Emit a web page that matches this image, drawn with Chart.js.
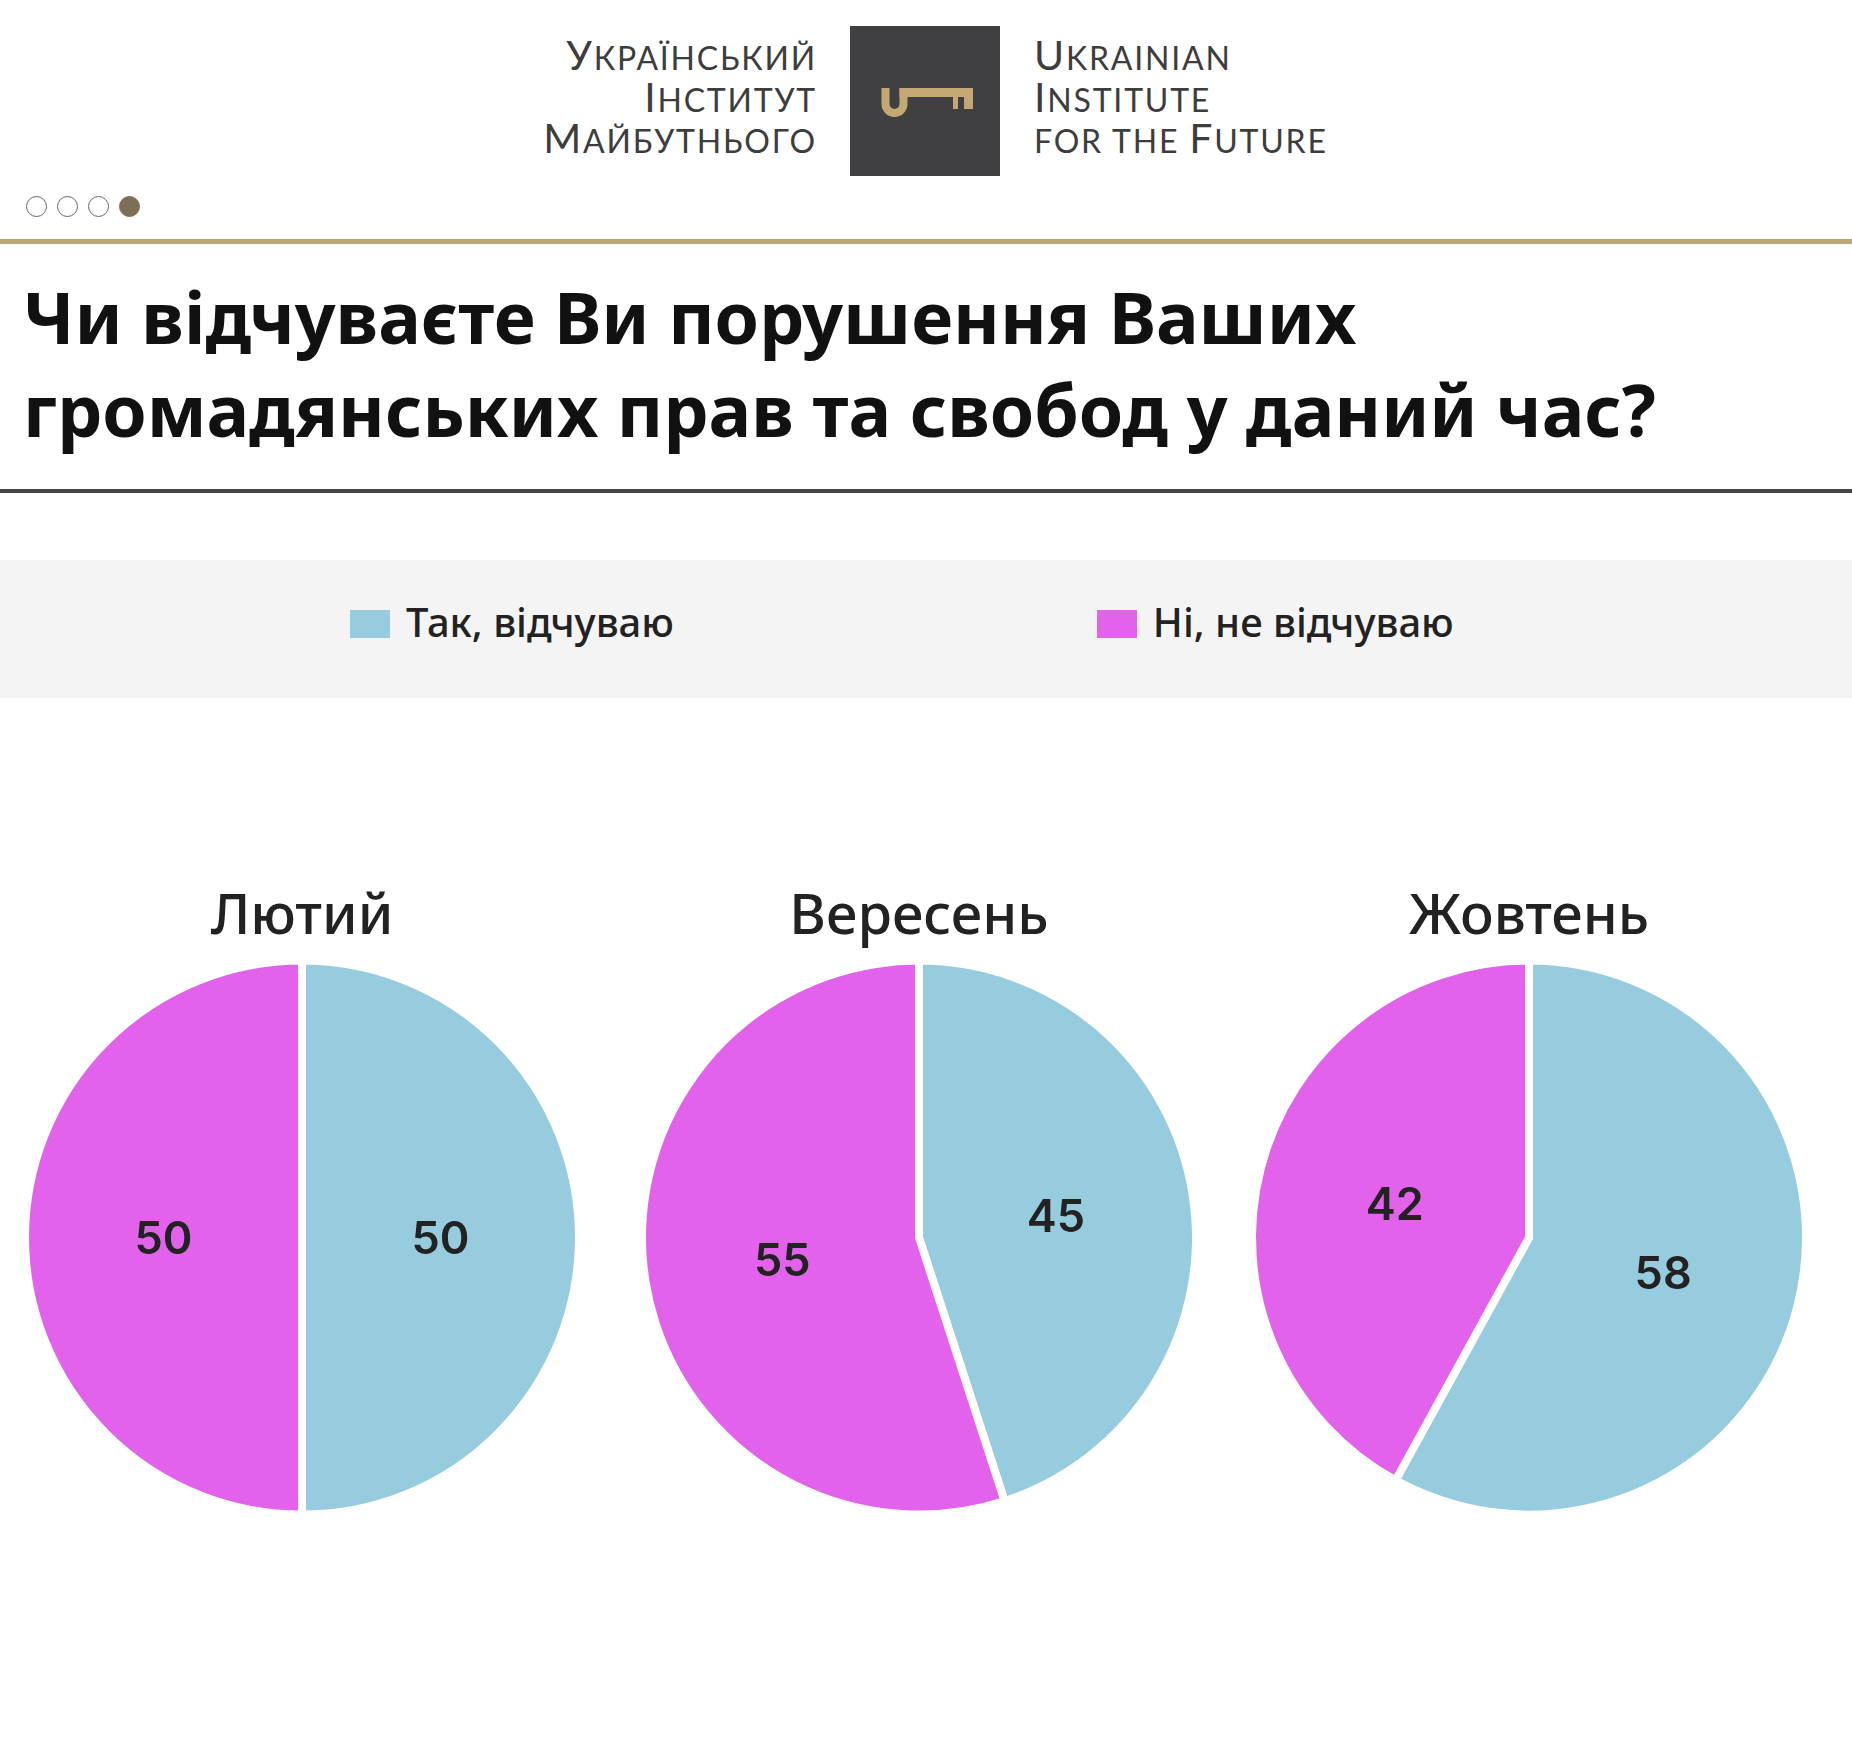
<!DOCTYPE html>
<html lang="uk">
<head>
<meta charset="UTF-8">
<title>Порушення громадянських прав та свобод</title>
<script src="https://cdn.jsdelivr.net/npm/chart.js"></script>
<style>
  html, body { margin: 0; padding: 0; background: #fff; }
  body { width: 1852px; height: 1739px; position: relative; overflow: hidden; font-family: 'Noto Sans', sans-serif; color: #222; }
  .logo-text { position: absolute; font-family: Lato, sans-serif; color: #3d3d3d; font-size: 32px; line-height: 41.5px; letter-spacing: 1.8px; text-transform: uppercase; }
  .logo-text div { height: 41.5px; }
  .logo-text .cap { font-size: 41px; line-height: 0; }
  .logo-left { right: calc(1852px - 817px); top: 37px; text-align: right; }
  .logo-right { left: 1034px; top: 37px; text-align: left; }
  .logo-box { position: absolute; left: 850px; top: 26px; }
  .dots { position: absolute; left: 26px; top: 196px; display: flex; gap: 10px; }
  .dots span { width: 19px; height: 19px; border: 1px solid #666; border-radius: 50%; box-sizing: content-box; }
  .dots span.on { background: #7d6e56; border-color: #7d6e56; }
  .gold-line { position: absolute; left: 0; top: 239px; width: 100%; height: 5px; background: #bfa676; }
  h1 { position: absolute; left: 23px; top: 270px; margin: 0; font-size: 71.5px; font-weight: 700; line-height: 93px; color: #111; }
  .dark-line { position: absolute; left: 0; top: 489px; width: 100%; height: 4px; background: #444; }
  .legend-band { position: absolute; left: 0; top: 560px; width: 100%; height: 138px; background: #f4f4f4; }
  .legend { position: absolute; left: 350px; top: 595px; display: flex; gap: 423px; }
  .legend-item { display: flex; align-items: center; font-size: 40px; font-weight: 500; color: #222; height: 52px; }
  .legend-item i { display: inline-block; width: 40px; height: 28px; margin-right: 16px; position: relative; top: 3px; }
  .pie { position: absolute; top: 884px; width: 600px; height: 640px; }
</style>
</head>
<body>
  <div class="logo-text logo-left">
    <div><span class="cap">У</span>країнський</div>
    <div><span class="cap">І</span>нститут</div>
    <div><span class="cap">М</span>айбутнього</div>
  </div>
  <svg class="logo-box" width="150" height="150" viewBox="0 0 150 150">
    <rect x="0" y="0" width="150" height="150" fill="#404042"/>
    <path d="M35.5 62 V78 a9 9 0 0 0 18 0 V62" fill="none" stroke="#c4a874" stroke-width="8"/>
    <rect x="49.5" y="62" width="73.5" height="9" fill="#c4a874"/>
    <rect x="103" y="62" width="5" height="21" fill="#c4a874"/>
    <rect x="114" y="62" width="9" height="21" fill="#c4a874"/>
  </svg>
  <div class="logo-text logo-right">
    <div><span class="cap">U</span>krainian</div>
    <div><span class="cap">I</span>nstitute</div>
    <div>for the <span class="cap">F</span>uture</div>
  </div>
  <div class="dots"><span></span><span></span><span></span><span class="on"></span></div>
  <div class="gold-line"></div>

  <h1>Чи відчуваєте Ви порушення Ваших<br>громадянських прав та свобод у даний час?</h1>
  <div class="dark-line"></div>

  <div class="legend-band"></div>
  <div class="legend" id="legend"></div>

  <div class="pie" style="left: 2px;"><canvas id="pie0"></canvas></div>
  <div class="pie" style="left: 619px;"><canvas id="pie1"></canvas></div>
  <div class="pie" style="left: 1229px;"><canvas id="pie2"></canvas></div>

<script>
  const months = ['Лютий', 'Вересень', 'Жовтень'];
  const answers = ['Так, відчуваю', 'Ні, не відчуваю'];
  const yesValues = [50, 45, 58];
  const noValues = [50, 55, 42];
  const sliceColors = ['#96ccdd', '#e362ec'];

  // legend built from the same arrays
  const legend = document.getElementById('legend');
  answers.forEach((a, i) => {
    const item = document.createElement('div');
    item.className = 'legend-item';
    item.innerHTML = '<i style="background:' + sliceColors[i] + '"></i>' + a;
    legend.appendChild(item);
  });

  // number in the middle of each slice
  const sliceLabels = {
    id: 'sliceLabels',
    afterDatasetsDraw(chart) {
      const ctx = chart.ctx;
      const ds = chart.data.datasets[0];
      ctx.save();
      ctx.font = '600 45px Inter';
      ctx.fillStyle = '#222';
      ctx.textAlign = 'center';
      ctx.textBaseline = 'middle';
      chart.getDatasetMeta(0).data.forEach((arc, i) => {
        const p = arc.tooltipPosition();
        ctx.fillText(ds.data[i], p.x, p.y + 3);
      });
      ctx.restore();
    }
  };

  months.forEach((m, i) => {
    new Chart(document.getElementById('pie' + i), {
      type: 'pie',
      data: {
        labels: answers,
        datasets: [{
          data: [yesValues[i], noValues[i]],
          backgroundColor: sliceColors,
          borderColor: '#fff',
          borderWidth: 8,
          hoverOffset: 0
        }]
      },
      options: {
        responsive: true,
        maintainAspectRatio: false,
        animation: false,
        events: [],
        radius: 277,
        layout: { padding: 0 },
        plugins: {
          legend: { display: false },
          tooltip: { enabled: false },
          title: {
            display: true,
            text: m,
            color: '#222',
            font: { family: 'Noto Sans', size: 56, weight: '500', lineHeight: 1.2 },
            padding: { top: 0, bottom: 0 }
          }
        }
      },
      plugins: [sliceLabels]
    });
  });
</script>
</body>
</html>
